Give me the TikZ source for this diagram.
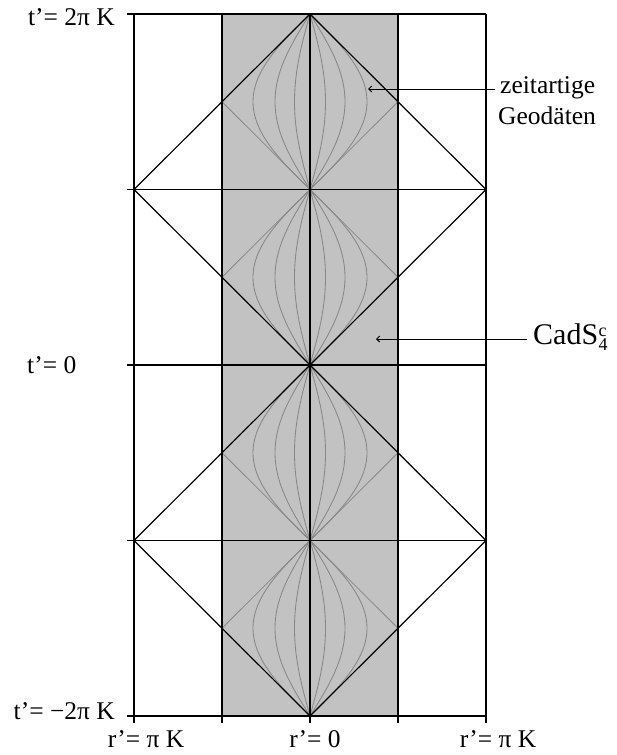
\documentclass[tikz,border=0pt]{standalone}
\usepackage{fontspec}
\setmainfont{Liberation Serif}
\usetikzlibrary{arrows.meta}
\definecolor{bandgray}{RGB}{194,194,194}
\definecolor{geogray}{RGB}{135,135,135}
\tikzset{
  blackline/.style={draw=black, line width=1.2pt},
  grayline/.style={draw=geogray, line width=0.8pt},
  geoline/.style={draw=geogray, line width=0.85pt},
  lbl/.style={font=\fontsize{25.5}{30}\selectfont, inner sep=0pt},
  biglbl/.style={font=\fontsize{30}{34}\selectfont, inner sep=0pt},
  pointer/.style={draw=black, line width=1pt, -{Straight Barb[length=3pt,width=6pt]}}
}
\begin{document}
\begin{tikzpicture}[x=1pt,y=-1pt]
\useasboundingbox (0,0) rectangle (616,755);
% band
\fill[bandgray] (222,14) rectangle (398,716);
% named grid points
\foreach \i/\y in {0/14,1/189.5,2/365,3/540.5,4/716} {
  \coordinate (L\i) at (134,\y);
  \coordinate (T\i) at (127,\y);
  \coordinate (C\i) at (310,\y);
  \coordinate (R\i) at (486,\y);
}
\foreach \i/\y in {0/101.75,1/277.25,2/452.75,3/628.25} {
  \coordinate (ML\i) at (222,\y);
  \coordinate (MR\i) at (398,\y);
}
\foreach \n/\x in {a/134,b/222,c/310,d/398,e/486} {
  \coordinate (top\n) at (\x,14);
  \coordinate (bot\n) at (\x,723);
}
% geodesics
\foreach \yt in {14,189.5,365,540.5} {
  \foreach \a in {-57,-35,-15.5,15.5,35,57} {
    \draw[geoline] plot[domain=0:1, samples=50, smooth] ({310+\a*sin(180*\x)}, {\yt+175.5*\x});
  }
}
% gray inner light-cone edges
\draw[grayline] (ML0) -- (C1) -- (MR0);
\draw[grayline] (ML1) -- (C1) -- (MR1);
\draw[grayline] (ML2) -- (C3) -- (MR2);
\draw[grayline] (ML3) -- (C3) -- (MR3);
% horizontal lines
\foreach \i in {0,...,4} { \draw[blackline] (T\i) -- (R\i); }
% vertical lines with bottom ticks
\foreach \n in {a,b,c,d,e} { \draw[blackline] (top\n) -- (bot\n); }
% big diamonds
\draw[blackline, line join=miter] (C0) -- (R1) -- (C2) -- (L1) -- cycle;
\draw[blackline, line join=miter] (C2) -- (R3) -- (C4) -- (L3) -- cycle;
% left labels
\node[lbl, anchor=base east] (t1) at (115,25) {t’= 2π K};
\node[lbl, anchor=base west] (t0) at (27,373) {t’= 0};
\node[lbl, anchor=base east] (t2) at (115,719) {t’= −2π K};
% bottom labels
\node[lbl, anchor=base] (r1) at (146,747) {r’= π K};
\node[lbl, anchor=base] (r0) at (315,747) {r’= 0};
\node[lbl, anchor=base] (r2) at (498,747) {r’= π K};
% right labels
\node[lbl, anchor=base west] (zeit) at (500,93) {zeitartige};
\node[lbl, anchor=base west] (geod) at (498,124) {Geodäten};
\node[biglbl, anchor=base west] (cads) at (533,344) {CadS\kern0.5pt\raisebox{-0.22em}{\fontsize{18}{15}\selectfont\begin{tabular}[b]{@{}l@{}}c\\[-0.12em]4\end{tabular}}};
\coordinate (geotip) at (368,89);
\coordinate (cadstip) at (376,339);
\coordinate (geostart) at (495,89);
\coordinate (cadsstart) at (527,339);
\draw[pointer] (geostart) -- (geotip);
\draw[pointer] (cadsstart) -- (cadstip);
\end{tikzpicture}
\end{document}
